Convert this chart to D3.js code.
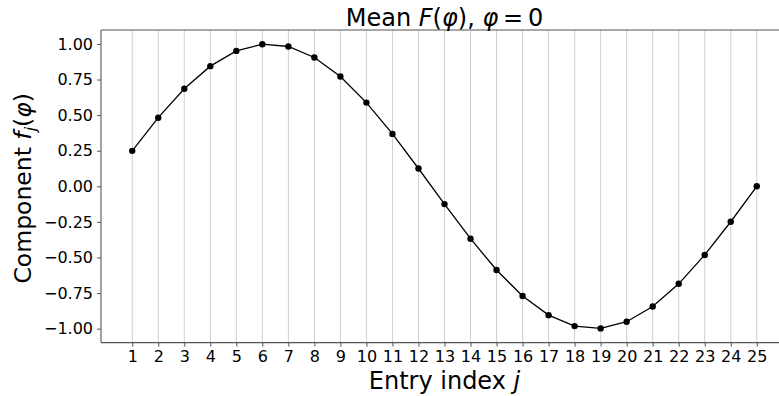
<!DOCTYPE html>
<html><head><meta charset="utf-8">
<script src="https://cdn.jsdelivr.net/npm/d3@7"></script>
<style>
  body { margin: 0; background: #fff; }
  text { font-family: "DejaVu Sans", sans-serif; fill: #000; }
</style>
</head>
<body>
<svg id="chart" width="779" height="396"></svg>
<script>
// Entry indices j and the mean component values f_j(φ) at φ = 0
const entries = [1,2,3,4,5,6,7,8,9,10,11,12,13,14,15,16,17,18,19,20,21,22,23,24,25];
const values = [0.249, 0.482, 0.685, 0.844, 0.951, 0.998, 0.982, 0.905, 0.771, 0.588,
                0.368, 0.125, -0.125, -0.368, -0.588, -0.771, -0.905, -0.982, -0.998,
                -0.951, -0.844, -0.685, -0.482, -0.249, 0.0];
const yTicks = [-1.0, -0.75, -0.5, -0.25, 0.0, 0.25, 0.5, 0.75, 1.0];
const xTicks = entries;

const svg = d3.select("#chart");
const plotL = 101, plotR = 788, plotT = 30, plotB = 342.6;

const x = d3.scaleLinear().domain([-0.2, 26.2]).range([plotL, plotR]);
const y = d3.scaleLinear().domain([-1.0979, 1.0979]).range([plotB, plotT]);

// vertical grid lines at each entry
svg.append("g").selectAll("line").data(xTicks).join("line")
  .attr("x1", d => x(d)).attr("x2", d => x(d))
  .attr("y1", plotT).attr("y2", plotB)
  .attr("stroke", "#cfcfcf").attr("stroke-width", 1);

// axes
const xAxis = d3.axisBottom(x).tickValues(xTicks).tickSize(4).tickPadding(4).tickFormat(d3.format("d"));
const yAxis = d3.axisLeft(y).tickValues(yTicks).tickSize(4).tickPadding(4)
  .tickFormat(d => d3.format(".2f")(d).replace("-", "\u2212"));

const gx = svg.append("g").attr("transform", `translate(0,${plotB})`).call(xAxis);
const gy = svg.append("g").attr("transform", `translate(${plotL},0)`).call(yAxis);
[gx, gy].forEach(g => {
  g.select(".domain").remove();
  g.selectAll(".tick line").attr("stroke", "#555");
  g.selectAll(".tick text").attr("font-size", 16).attr("font-family", "DejaVu Sans").attr("fill", "#000");
});

// spines (left, top, bottom)
const spine = svg.append("g").attr("stroke", "#555").attr("stroke-width", 1.1).attr("fill", "none");
spine.append("line").attr("x1", plotL).attr("x2", plotL).attr("y1", plotT).attr("y2", plotB);
spine.append("line").attr("x1", plotL).attr("x2", plotR).attr("y1", plotT).attr("y2", plotT);
spine.append("line").attr("x1", plotL).attr("x2", plotR).attr("y1", plotB).attr("y2", plotB);

// series line and markers
const pts = entries.map((e, i) => [e, values[i]]);
svg.append("path").datum(pts)
  .attr("d", d3.line().x(d => x(d[0])).y(d => y(d[1])))
  .attr("fill", "none").attr("stroke", "#000").attr("stroke-width", 1.3);
svg.append("g").selectAll("circle").data(pts).join("circle")
  .attr("cx", d => x(d[0])).attr("cy", d => y(d[1])).attr("r", 3.2).attr("fill", "#000");

// title
const cx = (plotL + plotR) / 2;
const title = svg.append("text").attr("x", cx).attr("y", 26).attr("text-anchor", "middle").attr("font-size", 24);
title.append("tspan").text("Mean ");
title.append("tspan").attr("font-style", "italic").text("F");
title.append("tspan").text("(");
title.append("tspan").attr("font-style", "italic").text("φ");
title.append("tspan").text("), ");
title.append("tspan").attr("font-style", "italic").text("φ");
title.append("tspan").text("\u2009=\u20090");

// x label
const xl = svg.append("text").attr("x", cx).attr("y", 389).attr("text-anchor", "middle").attr("font-size", 24);
xl.append("tspan").text("Entry index ");
xl.append("tspan").attr("font-style", "italic").text("j");

// y label
const yl = svg.append("text").attr("transform", `translate(31,${(plotT + plotB) / 2 + 2}) rotate(-90)`)
  .attr("text-anchor", "middle").attr("font-size", 23.5);
yl.append("tspan").text("Component ");
yl.append("tspan").attr("font-style", "italic").text("f");
yl.append("tspan").attr("font-style", "italic").attr("font-size", 16).attr("dy", 5).text("j");
yl.append("tspan").attr("dy", -5).text("(");
yl.append("tspan").attr("font-style", "italic").text("φ");
yl.append("tspan").text(")");
</script>
</body></html>
